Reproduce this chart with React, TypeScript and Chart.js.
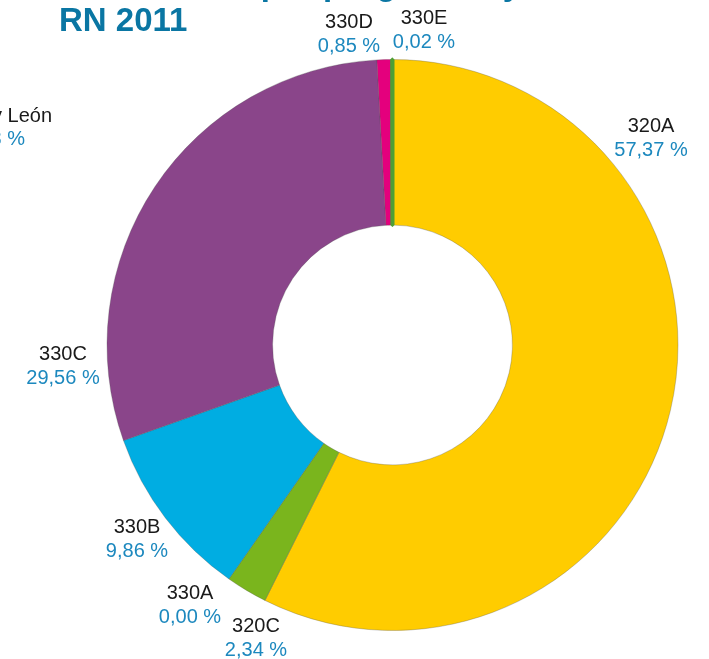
import React, { useEffect, useRef } from "react";
import { Chart, registerables } from "chart.js";

Chart.register(...registerables);

const categories = ["320A", "320C", "330A", "330B", "330C", "330D", "330E"];
const values = [57.37, 2.34, 0.0, 9.86, 29.56, 0.85, 0.02];
const percentLabels = ["57,37 %", "2,34 %", "0,00 %", "9,86 %", "29,56 %", "0,85 %", "0,02 %"];
const sliceColors = ["#FFCC00", "#7AB51D", "#7AB51D", "#00ADE2", "#8A458A", "#E4007D", "#4E9F35"];
const titleLines = ["Distribución por programas y", "RN 2011"];
const sideLabel = ["Castilla y León", "1,38 %"];

// label anchor points (centre x, name baseline y) in canvas pixels
const labelAnchors: [number, number][] = [
  [651, 132],
  [256, 632],
  [190, 599],
  [137, 533],
  [63, 360],
  [349, 28],
  [424, 24],
];

const W = 709;
const H = 659;

const labelPlugin = {
  id: "sliceLabels",
  afterDraw(chart: any) {
    const ctx = chart.ctx;
    ctx.save();
    // title
    ctx.fillStyle = "#0A76A3";
    ctx.font = "bold 33px 'Liberation Sans', Arial, sans-serif";
    ctx.textAlign = "left";
    ctx.textBaseline = "alphabetic";
    ctx.fillText(titleLines[0], 59, -5);
    ctx.fillText(titleLines[1], 59, 31);

    ctx.font = "20px 'Liberation Sans', Arial, sans-serif";
    ctx.textAlign = "center";
    categories.forEach((c, i) => {
      const [x, y] = labelAnchors[i];
      ctx.fillStyle = "#1A1A1A";
      ctx.fillText(c, x, y);
      ctx.fillStyle = "#1C88BE";
      ctx.fillText(percentLabels[i], x, y + 24);
    });
    ctx.textAlign = "right";
    ctx.fillStyle = "#1A1A1A";
    ctx.fillText(sideLabel[0], 52, 122);
    ctx.fillStyle = "#1C88BE";
    ctx.fillText(sideLabel[1], 25, 145);
    ctx.restore();
  },
};

export default function App() {
  const ref = useRef<HTMLCanvasElement | null>(null);
  useEffect(() => {
    if (!ref.current) return;
    const borderWidths = values.map((_, i) => (i === values.length - 1 ? 4 : 0.6));
    const borderColors = values.map((_, i) =>
      i === values.length - 1 ? sliceColors[i] : "rgba(80,80,80,0.5)"
    );
    const chart = new Chart(ref.current, {
      type: "doughnut",
      data: {
        labels: categories,
        datasets: [
          {
            data: values,
            backgroundColor: sliceColors,
            borderColor: borderColors,
            borderWidth: borderWidths,
            hoverBorderWidth: 0,
          },
        ],
      },
      options: {
        responsive: false,
        animation: false,
        events: [],
        cutout: "42%",
        rotation: 0,
        layout: { padding: { left: 105, right: 29, top: 57.5, bottom: 26.5 } },
        plugins: {
          legend: { display: false },
          tooltip: { enabled: false },
          title: { display: false },
        },
      },
      plugins: [labelPlugin],
    });
    return () => chart.destroy();
  }, []);
  return (
    <div style={{ position: "fixed", left: 0, top: 0, width: W, height: H, background: "#fff" }}>
      <canvas ref={ref} width={W} height={H} style={{ width: W, height: H, display: "block" }} />
    </div>
  );
}
